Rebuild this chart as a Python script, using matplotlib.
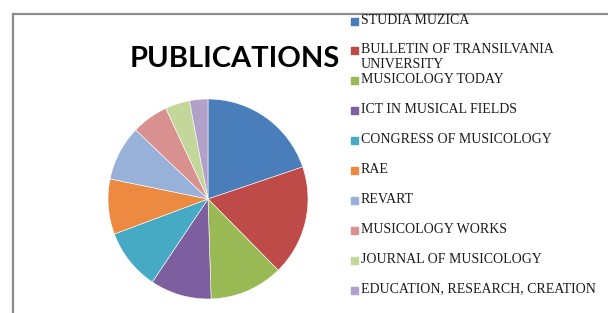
import matplotlib
matplotlib.use("Agg")
import matplotlib.pyplot as plt
from matplotlib.patches import Rectangle
from matplotlib.lines import Line2D

# publications per journal (roughly percent)
journals = ["STUDIA MUZICA", "BULLETIN OF TRANSILVANIA\nUNIVERSITY", "MUSICOLOGY TODAY",
            "ICT IN MUSICAL FIELDS", "CONGRESS OF MUSICOLOGY", "RAE", "REVART",
            "MUSICOLOGY WORKS", "JOURNAL OF MUSICOLOGY", "EDUCATION, RESEARCH, CREATION"]
counts = [20, 18, 12, 10, 10, 9, 9, 6, 4, 3]
colors = ["#4A7EBB", "#BE4B48", "#98B954", "#7D5FA0", "#46AAC5", "#EC8A42",
          "#97B1D9", "#D9918F", "#C4D79B", "#B1A0C7"]

W, H = 608, 313
fig = plt.figure(figsize=(W / 100, H / 100), dpi=100)

# chart frame, only top and left edges are visible
fig.add_artist(Line2D([13 / W, 13 / W], [0, 1 - 14 / H], color="#8c8c8c", lw=1.6))
fig.add_artist(Line2D([13 / W, 1], [1 - 14 / H, 1 - 14 / H], color="#8c8c8c", lw=1.6))

# pie
cx, cy, r = 208, 199, 101
ax = fig.add_axes([(cx - r) / W, (H - cy - r) / H, 2 * r / W, 2 * r / H])
ax.pie(counts, colors=colors, startangle=90, counterclock=False,
       wedgeprops=dict(edgecolor="white", linewidth=0.4))
ax.set_xlim(-1.01, 1.01)
ax.set_ylim(-1.01, 1.01)
ax.set_aspect("equal")
ax.axis("off")

fig.text(235 / W, 1 - 67 / H, "PUBLICATIONS", fontsize=21, fontweight="bold",
         family="Lato", ha="center", va="baseline")

# legend, one slot per entry
top, step = 21, 29.9
for i, (name, c) in enumerate(zip(journals, colors)):
    y = top + i * step
    fig.add_artist(Rectangle((351 / W, 1 - (y + 3.5) / H), 7 / W, 7 / H,
                             color=c, transform=fig.transFigure))
    fig.text(361 / W, 1 - (y - 7.5) / H, name, fontsize=10, family="Liberation Serif",
             ha="left", va="top", linespacing=1.15, color="#1a1a1a")

fig.savefig("out.png", dpi=100)
